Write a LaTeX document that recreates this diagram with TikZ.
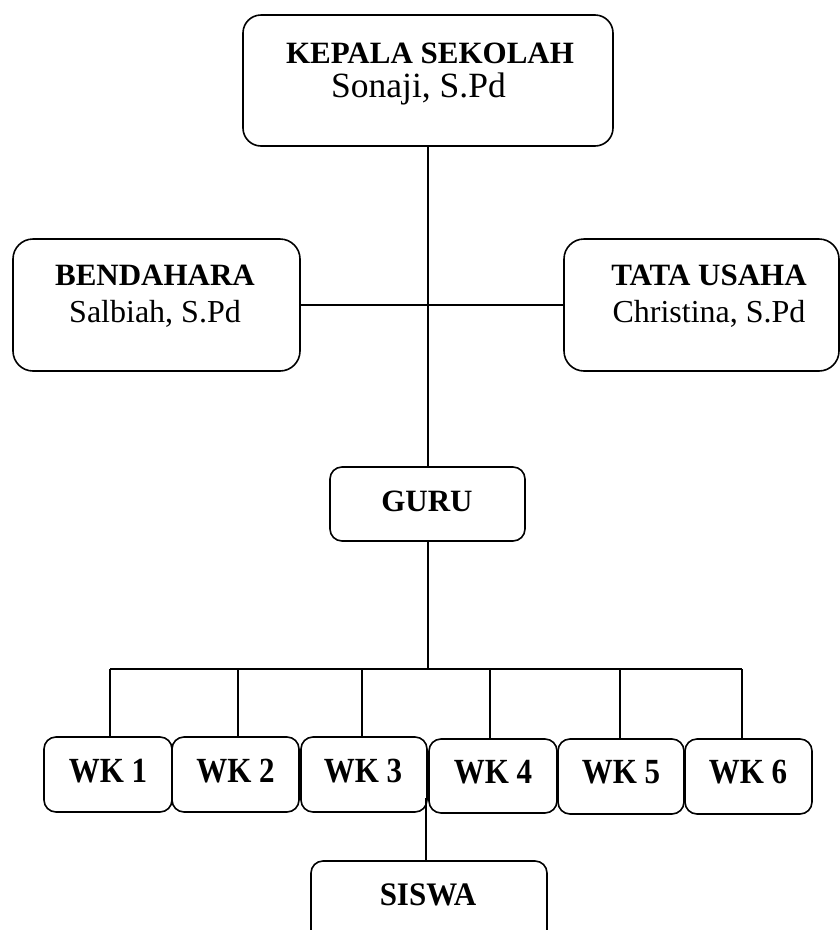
\documentclass[tikz,border=0pt]{standalone}
\usepackage{fontspec}
\setmainfont{Liberation Serif}
\newcommand{\tallwk}[1]{\scalebox{1}[1.14]{#1}}
\begin{document}
\begin{tikzpicture}[x=1pt,y=-1pt,
  box/.style={draw, line width=1.6pt, rounded corners=#1, inner sep=0pt},
  box/.default=12pt,
  bt/.style={anchor=base, inner sep=0pt, font=\fontsize{31}{36}\selectfont\bfseries},
  nt/.style={anchor=base, inner sep=0pt, font=\fontsize{32}{38}\selectfont},
  link/.style={line width=1.5pt}]
\useasboundingbox (0,0) rectangle (840,930);
\clip (0,0) rectangle (840,930);
% boxes
\node[box=18pt, minimum width=370pt, minimum height=131pt] (kepala) at (428,80.5) {};
\node[box=20pt, minimum width=287pt, minimum height=132pt] (bend) at (156.5,305) {};
\node[box=20pt, minimum width=275pt, minimum height=132pt] (tata) at (701.5,305) {};
\node[box, minimum width=195pt, minimum height=74pt] (guru) at (427.5,504) {};
\node[box, minimum width=128pt, minimum height=75pt] (wk1) at (108,774.5) {};
\node[box, minimum width=127pt, minimum height=75pt] (wk2) at (235.5,774.5) {};
\node[box, minimum width=126pt, minimum height=75pt] (wk3) at (364,774.5) {};
\node[box, minimum width=128pt, minimum height=74pt] (wk4) at (493,776) {};
\node[box, minimum width=126pt, minimum height=75pt] (wk5) at (621,776.5) {};
\node[box, minimum width=127pt, minimum height=75pt] (wk6) at (748.5,776.5) {};
\node[box, minimum width=236pt, minimum height=110pt] (siswa) at (429,916) {};
% texts
\node[bt] (kepalaT) at (430,63) {KEPALA SEKOLAH};
\node[nt, font=\fontsize{35.5}{40}\selectfont] (kepalaN) at (418.5,97) {Sonaji, S.Pd};
\node[bt] (bendT) at (155,285) {BENDAHARA};
\node[nt] (bendN) at (155,322) {Salbiah, S.Pd};
\node[bt] (tataT) at (709,285) {TATA USAHA};
\node[nt] (tataN) at (709,322) {Christina, S.Pd};
\node[bt] (guruT) at (427,511) {GURU};
\node[bt] (wk1T) at (108,782) {\tallwk{WK 1}};
\node[bt] (wk2T) at (235.5,782) {\tallwk{WK 2}};
\node[bt] (wk3T) at (363,782) {\tallwk{WK 3}};
\node[bt] (wk4T) at (493,783) {\tallwk{WK 4}};
\node[bt] (wk5T) at (621,783) {\tallwk{WK 5}};
\node[bt] (wk6T) at (748,783) {\tallwk{WK 6}};
\node[bt] (siswaT) at (428,905) {\scalebox{1}[1.06]{SISWA}};
% connectors
\coordinate (top) at (428,146);
\draw[link] (kepala.south -| top) -- (guru.north -| top);
\draw[link] (bend.east) -- (tata.west);
\coordinate (busL) at (110,669);
\coordinate (busR) at (742,669);
\draw[link] (guru.south -| top) -- (top |- busL);
\draw[link] (busL) -- (busR);
\coordinate (d1) at (110,669);
\coordinate (d2) at (238,669);
\coordinate (d3) at (362,669);
\coordinate (d4) at (490,669);
\coordinate (d5) at (620,669);
\coordinate (d6) at (742,669);
\draw[link] (d1) -- (d1 |- wk1.north);
\draw[link] (d2) -- (d2 |- wk2.north);
\draw[link] (d3) -- (d3 |- wk3.north);
\draw[link] (d4) -- (d4 |- wk4.north);
\draw[link] (d5) -- (d5 |- wk5.north);
\draw[link] (d6) -- (d6 |- wk6.north);
\coordinate (s0) at (426,798);
\draw[link] (s0) -- (s0 |- siswa.north);
\end{tikzpicture}
\end{document}
